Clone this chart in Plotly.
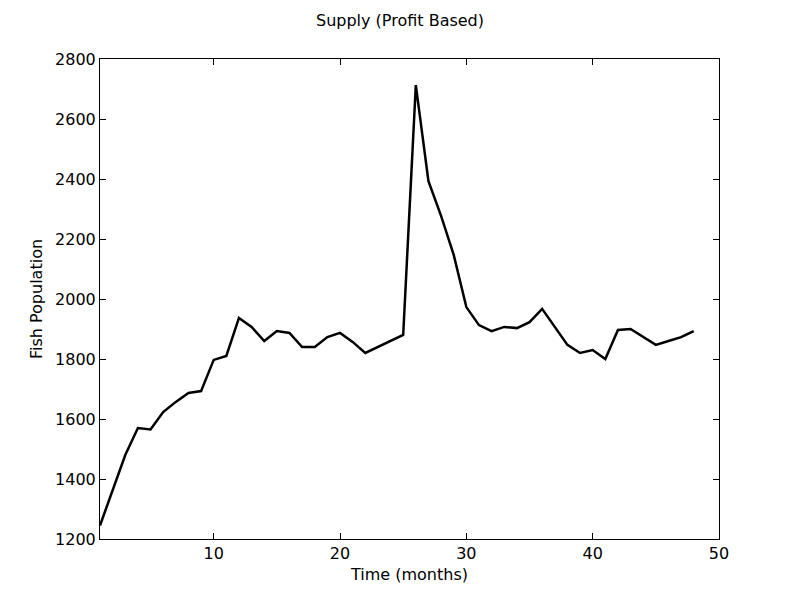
import plotly.graph_objects as go

# monthly fish population
months = list(range(1, 49))
population = [1245, 1360, 1480, 1570, 1565, 1623, 1657, 1687, 1693, 1797,
              1810, 1937, 1907, 1860, 1893, 1887, 1840, 1840, 1873, 1887,
              1857, 1820, 1840, 1860, 1880, 2713, 2393, 2277, 2147, 1973,
              1913, 1893, 1907, 1903, 1923, 1967, 1907, 1847, 1820, 1830,
              1800, 1897, 1900, 1873, 1847, 1860, 1873, 1893]

fig = go.Figure(go.Scatter(x=months, y=population, mode="lines",
                           line=dict(color="black", width=2.5)))

axis = dict(showgrid=False, zeroline=False, showline=True, linecolor="black",
            mirror="ticks", ticks="inside", ticklen=6, tickcolor="black",
            tickfont=dict(size=16, color="black"))

fig.update_layout(
    width=800, height=600,
    plot_bgcolor="white", paper_bgcolor="white",
    font=dict(family="DejaVu Sans", color="black"),
    title=dict(text="Supply (Profit Based)", x=0.49, xanchor="center",
               y=0.98, yanchor="middle", font=dict(size=16)),
    margin=dict(l=92, r=89, t=51, b=69),
    showlegend=False,
    xaxis=dict(axis, range=[1, 50], tickvals=[10, 20, 30, 40, 50],
               title=dict(text="Time (months)", font=dict(size=16), standoff=6)),
    yaxis=dict(axis, range=[1200, 2800], dtick=200,
               title=dict(text="Fish Population", font=dict(size=16), standoff=8)),
)

fig.write_html("out.html")
